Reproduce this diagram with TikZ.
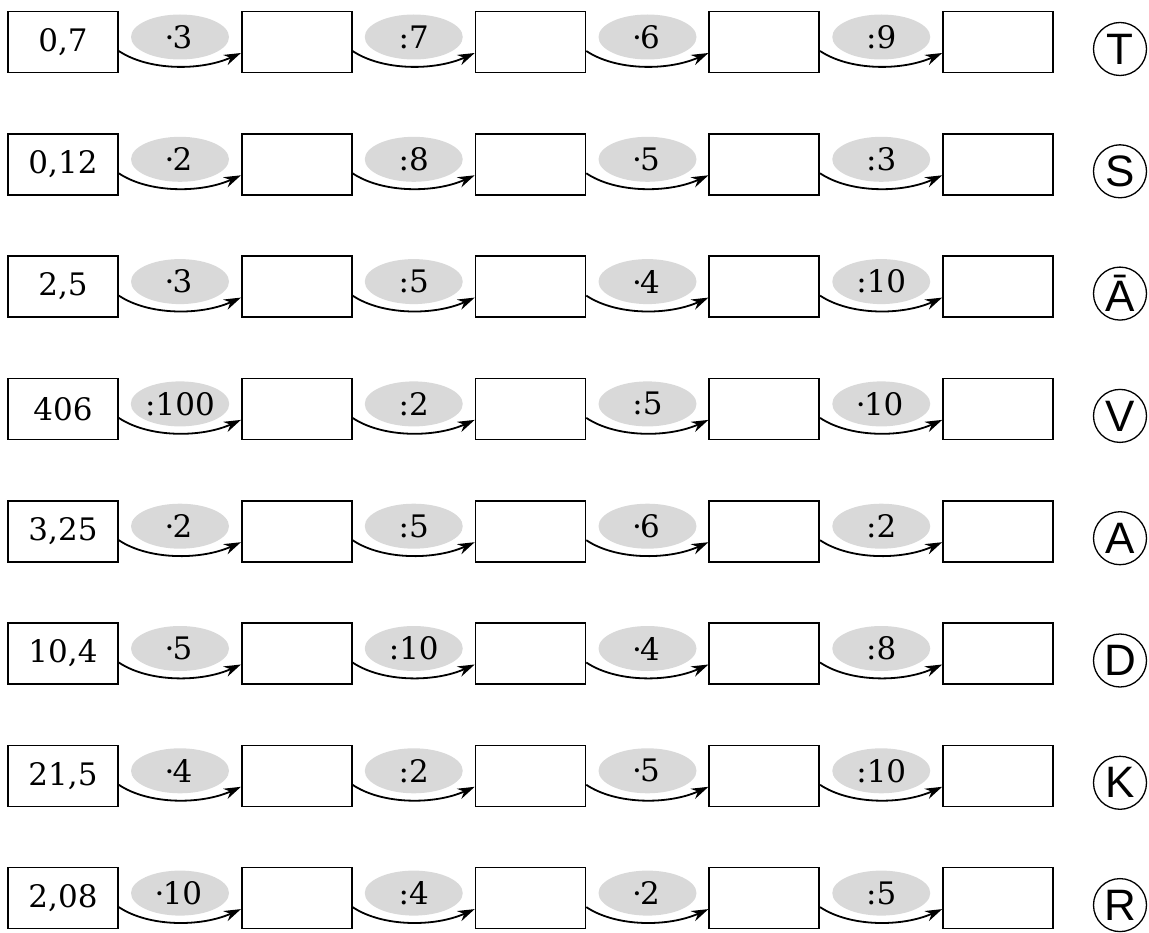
\documentclass[tikz,border=0pt]{standalone}
\usepackage{fontspec}
\newfontfamily\letterfont{Liberation Sans}
\newfontfamily\numfont{DejaVu Serif}
\usetikzlibrary{arrows.meta,shapes.geometric}
\newcommand\md{\kern-0.1em·\kern-0.06em}
\tikzset{
 numbox/.style={draw, line width=1.6pt, minimum width=110pt, minimum height=61pt, inner sep=0pt, font=\numfont\fontsize{31}{36}\selectfont},
 opoval/.style={ellipse, fill=black!15, minimum width=98pt, minimum height=45pt, inner sep=0pt, font=\numfont\fontsize{31}{36}\selectfont},
 conn/.style={line width=1.8pt, -{Stealth[length=17pt,width=11pt]}},
 tag/.style={circle, draw, line width=1.3pt, minimum size=53pt, inner sep=0pt, font=\letterfont\fontsize{44}{48}\selectfont},
}
\newcommand\oprow[8]{%
 \node[numbox] (r#1b1) at (63,#2) {#3};
 \node[numbox] (r#1b2) at (296.75,#2) {};
 \node[numbox] (r#1b3) at (530.5,#2) {};
 \node[numbox] (r#1b4) at (764.25,#2) {};
 \node[numbox] (r#1b5) at (998,#2) {};
 \node[opoval] (r#1o1) at (180,#2-5) {#4};
 \node[opoval] (r#1o2) at (413.75,#2-5) {#5};
 \node[opoval] (r#1o3) at (647.5,#2-5) {#6};
 \node[opoval] (r#1o4) at (881.25,#2-5) {#7};
 \draw[conn] ([yshift=-9pt]r#1b1.east) .. controls +(30,20) and +(-40,18) .. ([yshift=-11pt]r#1b2.west);
 \draw[conn] ([yshift=-9pt]r#1b2.east) .. controls +(30,20) and +(-40,18) .. ([yshift=-11pt]r#1b3.west);
 \draw[conn] ([yshift=-9pt]r#1b3.east) .. controls +(30,20) and +(-40,18) .. ([yshift=-11pt]r#1b4.west);
 \draw[conn] ([yshift=-9pt]r#1b4.east) .. controls +(30,20) and +(-40,18) .. ([yshift=-11pt]r#1b5.west);
 \node[tag] (r#1t) at (1120,#2+7) {#8};
}
\begin{document}
\begin{tikzpicture}[x=1pt,y=-1pt]
\useasboundingbox (0,0) rectangle (1149,933);
\oprow{1}{42}{0,7}{\md3}{:7}{\md6}{:9}{T}
\oprow{2}{164.3}{0,12}{\md2}{:8}{\md5}{:3}{S}
\oprow{3}{286.6}{2,5}{\md3}{:5}{\md4}{:10}{Ā}
\oprow{4}{408.9}{406}{:100}{:2}{:5}{\md10}{V}
\oprow{5}{531.2}{3,25}{\md2}{:5}{\md6}{:2}{A}
\oprow{6}{653.5}{10,4}{\md5}{:10}{\md4}{:8}{D}
\oprow{7}{775.8}{21,5}{\md4}{:2}{\md5}{:10}{K}
\oprow{8}{898.1}{2,08}{\md10}{:4}{\md2}{:5}{R}
\end{tikzpicture}
\end{document}
